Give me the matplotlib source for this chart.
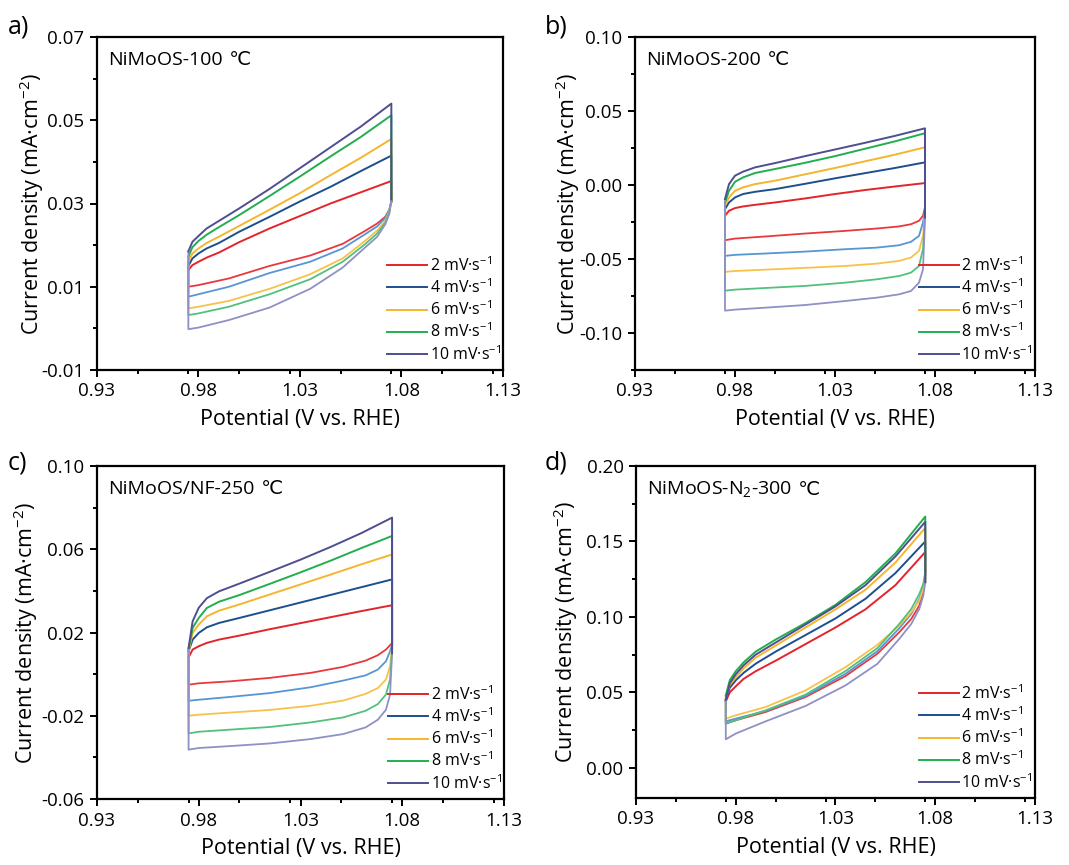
import matplotlib
matplotlib.use("Agg")
import matplotlib.pyplot as plt
from matplotlib.ticker import MultipleLocator, FixedLocator, FixedFormatter

plt.rcParams['font.family'] = ['Open Sans', 'DejaVu Sans']
plt.rcParams['mathtext.fontset'] = 'custom'
plt.rcParams['mathtext.rm'] = 'Open Sans'
plt.rcParams['mathtext.it'] = 'Open Sans'
plt.rcParams['axes.unicode_minus'] = False

# ---------------- data ----------------
RATE_LABELS = ["2 mV·s$^{-1}$", "4 mV·s$^{-1}$", "6 mV·s$^{-1}$", "8 mV·s$^{-1}$", "10 mV·s$^{-1}$"]
POT_FWD = [0.975, 0.977, 0.980, 0.984, 0.990, 1.000, 1.015, 1.030, 1.045, 1.060, 1.075]
POT_REV = [1.075, 1.074, 1.072, 1.068, 1.062, 1.051, 1.035, 1.015, 0.995, 0.980, 0.975]

A_FWD = [
    [0.0140, 0.0152, 0.0160, 0.0170, 0.0182, 0.0207, 0.0240, 0.0270, 0.0300, 0.0327, 0.0354],
    [0.0150, 0.0168, 0.0180, 0.0192, 0.0205, 0.0232, 0.0268, 0.0305, 0.0340, 0.0378, 0.0415],
    [0.0160, 0.0180, 0.0192, 0.0205, 0.0220, 0.0246, 0.0285, 0.0325, 0.0368, 0.0410, 0.0455],
    [0.0172, 0.0195, 0.0210, 0.0225, 0.0243, 0.0272, 0.0318, 0.0365, 0.0413, 0.0460, 0.0512],
    [0.0185, 0.0208, 0.0222, 0.0240, 0.0258, 0.0288, 0.0335, 0.0385, 0.0435, 0.0485, 0.0540],
]
A_REV = [
    [0.0305, 0.0285, 0.0268, 0.0252, 0.0234, 0.0203, 0.0175, 0.0150, 0.0120, 0.0104, 0.0100],
    [0.0305, 0.0285, 0.0265, 0.0245, 0.0226, 0.0192, 0.0160, 0.0133, 0.0100, 0.0082, 0.0076],
    [0.0305, 0.0282, 0.0258, 0.0235, 0.0210, 0.0168, 0.0130, 0.0095, 0.0066, 0.0052, 0.0048],
    [0.0305, 0.0280, 0.0254, 0.0228, 0.0202, 0.0160, 0.0118, 0.0082, 0.0052, 0.0036, 0.0032],
    [0.0310, 0.0275, 0.0250, 0.0220, 0.0194, 0.0146, 0.0095, 0.0050, 0.0020, 0.0002, -0.0002],
]

B_FWD = [
    [-0.0208, -0.0174, -0.0156, -0.0145, -0.0134, -0.0118, -0.0091, -0.0061, -0.0034, -0.0010, 0.0013],
    [-0.0163, -0.0118, -0.0084, -0.0061, -0.0046, -0.0028, 0.0008, 0.0045, 0.0080, 0.0115, 0.0153],
    [-0.0140, -0.0084, -0.0039, -0.0016, 0.0006, 0.0029, 0.0072, 0.0115, 0.0160, 0.0205, 0.0255],
    [-0.0118, -0.0039, 0.0022, 0.0051, 0.0081, 0.0108, 0.0150, 0.0195, 0.0245, 0.0295, 0.0350],
    [-0.0095, 0.0006, 0.0063, 0.0090, 0.0119, 0.0148, 0.0195, 0.0240, 0.0285, 0.0332, 0.0383],
]
B_REV = [
    [-0.0150, -0.0208, -0.0242, -0.0265, -0.0280, -0.0294, -0.0310, -0.0328, -0.0348, -0.0362, -0.0373],
    [-0.0170, -0.0253, -0.0344, -0.0384, -0.0407, -0.0423, -0.0434, -0.0450, -0.0463, -0.0472, -0.0479],
    [-0.0190, -0.0344, -0.0445, -0.0490, -0.0513, -0.0531, -0.0547, -0.0560, -0.0572, -0.0581, -0.0587],
    [-0.0200, -0.0434, -0.0547, -0.0592, -0.0615, -0.0637, -0.0660, -0.0682, -0.0696, -0.0707, -0.0714],
    [-0.0220, -0.0570, -0.0660, -0.0716, -0.0739, -0.0761, -0.0784, -0.0811, -0.0829, -0.0842, -0.0849],
]

C_FWD = [
    [0.0080, 0.0118, 0.0134, 0.0150, 0.0166, 0.0185, 0.0216, 0.0245, 0.0274, 0.0303, 0.0331],
    [0.0110, 0.0166, 0.0198, 0.0225, 0.0246, 0.0270, 0.0307, 0.0344, 0.0381, 0.0418, 0.0455],
    [0.0110, 0.0198, 0.0238, 0.0278, 0.0305, 0.0335, 0.0383, 0.0431, 0.0479, 0.0528, 0.0575],
    [0.0120, 0.0222, 0.0270, 0.0318, 0.0348, 0.0380, 0.0434, 0.0489, 0.0546, 0.0606, 0.0664],
    [0.0126, 0.0254, 0.0319, 0.0365, 0.0398, 0.0435, 0.0492, 0.0550, 0.0612, 0.0678, 0.0752],
]
C_REV = [
    [0.0150, 0.0139, 0.0118, 0.0091, 0.0065, 0.0035, 0.0006, -0.0018, -0.0035, -0.0044, -0.0051],
    [0.0142, 0.0110, 0.0062, 0.0022, -0.0006, -0.0031, -0.0063, -0.0091, -0.0110, -0.0123, -0.0128],
    [0.0130, 0.0038, -0.0026, -0.0067, -0.0095, -0.0127, -0.0152, -0.0172, -0.0185, -0.0195, -0.0200],
    [0.0120, -0.0026, -0.0098, -0.0144, -0.0176, -0.0208, -0.0232, -0.0254, -0.0267, -0.0277, -0.0285],
    [0.0100, -0.0099, -0.0171, -0.0219, -0.0256, -0.0288, -0.0312, -0.0333, -0.0346, -0.0355, -0.0363],
]

D_FWD = [
    [0.044, 0.050, 0.054, 0.059, 0.064, 0.071, 0.082, 0.093, 0.105, 0.121, 0.143],
    [0.045, 0.053, 0.058, 0.063, 0.069, 0.077, 0.088, 0.099, 0.112, 0.129, 0.150],
    [0.046, 0.055, 0.060, 0.066, 0.073, 0.081, 0.093, 0.105, 0.118, 0.136, 0.159],
    [0.048, 0.058, 0.064, 0.070, 0.077, 0.085, 0.096, 0.108, 0.123, 0.142, 0.1665],
    [0.045, 0.056, 0.062, 0.068, 0.075, 0.083, 0.095, 0.107, 0.121, 0.140, 0.163],
]
D_REV = [
    [0.128, 0.1174, 0.1075, 0.0987, 0.0899, 0.0756, 0.0608, 0.0469, 0.0370, 0.0315, 0.0293],
    [0.125, 0.1196, 0.1119, 0.1020, 0.0925, 0.0773, 0.0623, 0.0476, 0.0377, 0.0326, 0.0308],
    [0.123, 0.1185, 0.1108, 0.1031, 0.0943, 0.0815, 0.0667, 0.0513, 0.0403, 0.0348, 0.0326],
    [0.130, 0.1220, 0.1152, 0.1053, 0.0954, 0.0793, 0.0641, 0.0485, 0.0381, 0.0315, 0.0293],
    [0.123, 0.1141, 0.1053, 0.0954, 0.0855, 0.0689, 0.0546, 0.0410, 0.0308, 0.0227, 0.0189],
]

X_TICKS = [0.93, 0.98, 1.03, 1.08, 1.13]
X_TICKLABELS = ["0.93", "0.98", "1.03", "1.08", "1.13"]

PANELS = [
    dict(letter="a)", title="NiMoOS-100", fwd=A_FWD, rev=A_REV, ylim=(-0.01, 0.07),
         yticks=[-0.01, 0.01, 0.03, 0.05, 0.07], yticklabels=["-0.01", "0.01", "0.03", "0.05", "0.07"],
         yminor=0.01),
    dict(letter="b)", title="NiMoOS-200", fwd=B_FWD, rev=B_REV, ylim=(-0.125, 0.10),
         yticks=[-0.10, -0.05, 0.00, 0.05, 0.10], yticklabels=["-0.10", "-0.05", "0.00", "0.05", "0.10"],
         yminor=0.025),
    dict(letter="c)", title="NiMoOS/NF-250", fwd=C_FWD, rev=C_REV, ylim=(-0.06, 0.10),
         yticks=[-0.06, -0.02, 0.02, 0.06, 0.10], yticklabels=["-0.06", "-0.02", "0.02", "0.06", "0.10"],
         yminor=0.02),
    dict(letter="d)", title="NiMoOS-N$_2$-300", fwd=D_FWD, rev=D_REV, ylim=(-0.02, 0.20),
         yticks=[0.00, 0.05, 0.10, 0.15, 0.20], yticklabels=["0.00", "0.05", "0.10", "0.15", "0.20"],
         yminor=0.025),
]

DARK = ["#e3242b", "#1d4f8e", "#f5b52e", "#22ae4f", "#4e4e90"]
LIGHT = ["#e8383c", "#5796d2", "#f7c24a", "#52c07e", "#8f90c4"]

# ---------------- layout ----------------
W, H = 1069, 865
fig = plt.figure(figsize=(W / 100, H / 100), dpi=100)

# axes boxes in pixels: left, top, right, bottom
BOXES = [(97, 37, 503, 370), (635, 37, 1035, 370), (97, 466, 504, 799), (636, 466, 1035, 798)]
LETTER_POS = [(8, 27), (545, 27), (8, 463), (545, 463)]
YLABEL_X = [32, 568, 26, 566]

for p, box, lpos, ylx in zip(PANELS, BOXES, LETTER_POS, YLABEL_X):
    l, t, r, b = box
    ax = fig.add_axes([l / W, 1 - b / H, (r - l) / W, (b - t) / H])
    for i in range(5):
        xf = POT_FWD + [POT_REV[0]]
        yf = p["fwd"][i] + [p["rev"][i][0]]
        xr = POT_REV + [POT_FWD[0]]
        yr = p["rev"][i] + [p["fwd"][i][0]]
        ax.plot(xr, yr, color=LIGHT[i], lw=1.3, solid_joinstyle="round")
        ax.plot(xf, yf, color=DARK[i], lw=1.4, solid_joinstyle="round", label=RATE_LABELS[i])

    ax.set_xlim(0.93, 1.13)
    ax.set_ylim(*p["ylim"])
    ax.xaxis.set_major_locator(FixedLocator(X_TICKS))
    ax.xaxis.set_major_formatter(FixedFormatter(X_TICKLABELS))
    ax.xaxis.set_minor_locator(MultipleLocator(0.025))
    ax.yaxis.set_major_locator(FixedLocator(p["yticks"]))
    ax.yaxis.set_major_formatter(FixedFormatter(p["yticklabels"]))
    ax.yaxis.set_minor_locator(MultipleLocator(p["yminor"]))
    ax.tick_params(which="both", direction="out", width=1.4, labelsize=13.5, top=False, right=False)
    ax.tick_params(which="major", length=5, pad=4)
    ax.tick_params(which="minor", length=3)
    for s in ax.spines.values():
        s.set_linewidth(1.6)

    ax.set_xlabel("Potential (V vs. RHE)", fontsize=15.5, labelpad=6)
    fig.text(ylx / W, 1 - (t + b) / 2 / H, "Current density (mA·cm$^{-2}$)", rotation=90,
             ha="center", va="center", fontsize=15.5)
    fig.text(lpos[0] / W, 1 - lpos[1] / H, p["letter"], ha="left", va="center", fontsize=18)
    t1 = ax.text(0.028, 0.93, p["title"], transform=ax.transAxes, ha="left", va="center", fontsize=14)
    ax.annotate(" ℃", xy=(1.0, 0.0), xycoords=t1, ha="left", va="bottom", fontsize=14,
                family=["DejaVu Sans"])

    ax.legend(loc="lower right", bbox_to_anchor=(1.01, 0.0), frameon=False, fontsize=11.5,
              handlelength=2.5, handletextpad=0.15, labelspacing=0.22, borderaxespad=0.2,
              borderpad=0.2)

fig.savefig("out.png", dpi=100)
